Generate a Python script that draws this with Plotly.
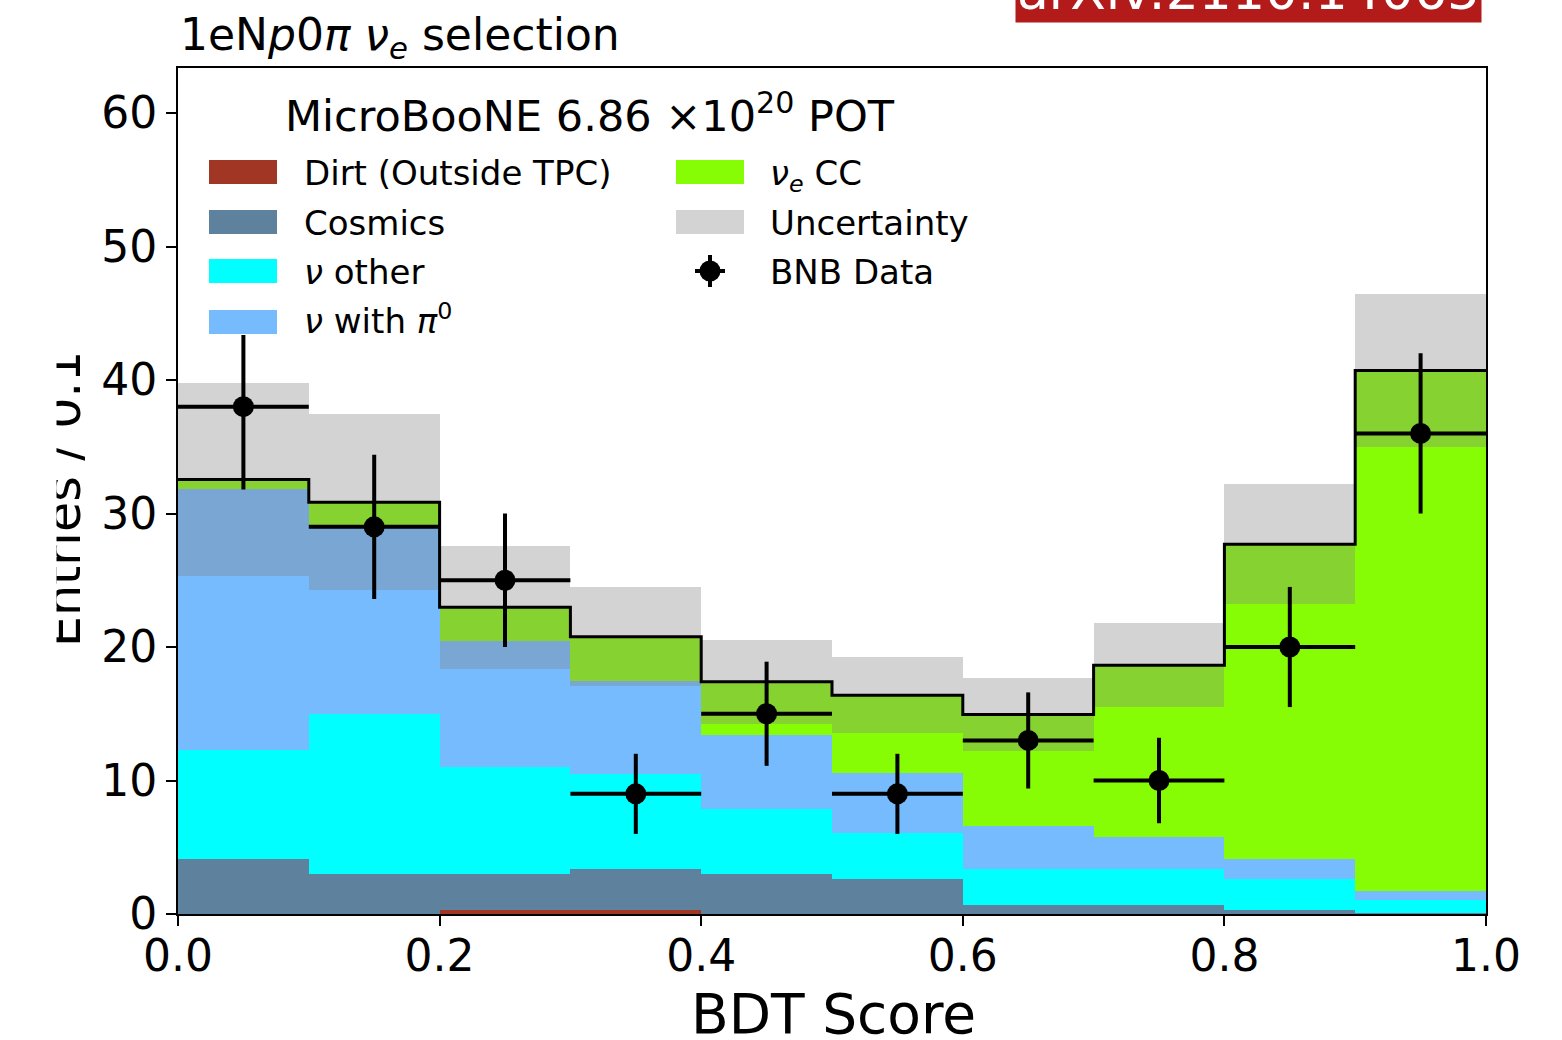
import numpy as np
import plotly.graph_objects as go

# ---------------- data ----------------
bin_edges = [0.0, 0.1, 0.2, 0.3, 0.4, 0.5, 0.6, 0.7, 0.8, 0.9, 1.0]
bin_centers = [0.05, 0.15, 0.25, 0.35, 0.45, 0.55, 0.65, 0.75, 0.85, 0.95]

dirt = [0.0, 0.0, 0.3, 0.3, 0.0, 0.0, 0.0, 0.0, 0.0, 0.0]
cosmics = [4.13, 2.97, 2.7, 3.07, 3.0, 2.65, 0.65, 0.65, 0.3, 0.1]
nu_other = [8.15, 11.99, 8.01, 7.12, 4.87, 3.39, 2.7, 2.7, 2.3, 0.98]
nu_pi0 = [19.53, 13.96, 9.47, 6.96, 5.54, 4.5, 3.27, 2.42, 1.53, 0.61]
nue_cc = [0.73, 1.93, 2.49, 3.32, 3.99, 5.84, 8.33, 12.86, 23.57, 39.02]
mc_unc = [7.2, 6.6, 4.6, 3.7, 3.15, 2.85, 2.75, 3.15, 4.5, 5.75]

bnb_data = [38, 29, 25, 9, 15, 9, 13, 10, 20, 36]
bnb_err = [6.2, 5.4, 5.0, 3.0, 3.9, 3.0, 3.6, 3.2, 4.5, 6.0]

x_ticks = [0.0, 0.2, 0.4, 0.6, 0.8, 1.0]
y_ticks = [0, 10, 20, 30, 40, 50, 60]

# ---------------- styling ----------------
FONT = "DejaVu Sans"
W, H = 1562, 1040
L, R, T, B = 178, 76, 68, 126
PW, PH = W - L - R, H - T - B
Y_MAX = PH / 13.35

c_dirt = "#a13624"
c_cos = "#5e819d"
c_oth = "#00ffff"
c_pi0 = "#75bbfd"
c_nue = "#87fd05"
c_unc = "rgba(128,128,128,0.35)"


def xp(px):
    return (px - L) / PW


def yp(py):
    return (H - B - py) / PH


components = [
    ("Dirt (Outside TPC)", dirt, c_dirt),
    ("Cosmics", cosmics, c_cos),
    ("ν other", nu_other, c_oth),
    ("ν with π0", nu_pi0, c_pi0),
    ("νe CC", nue_cc, c_nue),
]

fig = go.Figure()
base = np.zeros(len(bin_centers))
for name, vals, col in components:
    vals = np.array(vals, dtype=float)
    fig.add_trace(go.Bar(
        x=bin_centers, y=vals, base=base.copy(), width=0.1, name=name,
        marker=dict(color=col, line=dict(width=0)), showlegend=False,
    ))
    base = base + vals

total = base
unc = np.array(mc_unc)
fig.add_trace(go.Bar(
    x=bin_centers, y=2 * unc, base=total - unc, width=0.1, name="Uncertainty",
    marker=dict(color=c_unc, line=dict(width=0)), showlegend=False,
))

fig.add_trace(go.Scatter(
    x=bin_edges, y=list(total) + [total[-1]], mode="lines",
    line=dict(color="black", width=3, shape="hv"), showlegend=False,
))

fig.add_trace(go.Scatter(
    x=bin_centers, y=bnb_data, mode="markers", name="BNB Data",
    marker=dict(color="black", size=21),
    error_y=dict(type="data", array=bnb_err, color="black", thickness=4, width=0),
    error_x=dict(type="data", array=[0.05] * len(bin_centers), color="black", thickness=4, width=0),
    showlegend=False,
))

# ---------------- custom legend ----------------
shapes = []
annotations = []

shapes.append(dict(type="rect", xref="paper", yref="paper", x0=xp(198), x1=xp(985),
                   y0=yp(335), y1=yp(82), fillcolor="white", line=dict(width=0), layer="above"))


def text_at(txt, x_px, baseline_px, size, anchor_mode="top", xanchor="left", color="black", **kw):
    if anchor_mode == "bottom":
        y_px = baseline_px + 0.236 * size + 1
    else:
        y_px = baseline_px - 0.928 * size - 1
    annotations.append(dict(text=txt, x=xp(x_px), y=yp(y_px), xref="paper", yref="paper",
                            xanchor=xanchor, yanchor=anchor_mode, showarrow=False,
                            font=dict(family=FONT, size=size, color=color), **kw))


leg_fs = 34
col1_rows = [172, 222, 271, 322]
col2_rows = [172, 222, 271]
col1 = [("Dirt (Outside TPC)", c_dirt, "top"), ("Cosmics", c_cos, "top"),
        ("<i>ν</i> other", c_oth, "top"), ("<i>ν</i> with <i>π</i><sup>0</sup>", c_pi0, "bottom")]
for (txt, col, am), yc in zip(col1, col1_rows):
    shapes.append(dict(type="rect", xref="paper", yref="paper", x0=xp(209), x1=xp(277),
                       y0=yp(yc + 12), y1=yp(yc - 12), fillcolor=col, line=dict(width=0), layer="above"))
    text_at(txt, 302, yc + 12, leg_fs, am)

col2 = [("<i>ν<sub>e</sub></i> CC", c_nue, "top"), ("Uncertainty", c_unc, "top")]
for (txt, col, am), yc in zip(col2, col2_rows[:2]):
    shapes.append(dict(type="rect", xref="paper", yref="paper", x0=xp(676), x1=xp(744),
                       y0=yp(yc + 12), y1=yp(yc - 12), fillcolor=col, line=dict(width=0), layer="above"))
    text_at(txt, 768, yc + 12, leg_fs, am)

# BNB data handle
yc = col2_rows[2]
shapes.append(dict(type="line", xref="paper", yref="paper", x0=xp(710), x1=xp(710),
                   y0=yp(yc + 16), y1=yp(yc - 16), line=dict(color="black", width=4), layer="above"))
shapes.append(dict(type="line", xref="paper", yref="paper", x0=xp(695), x1=xp(725),
                   y0=yp(yc), y1=yp(yc), line=dict(color="black", width=4), layer="above"))
shapes.append(dict(type="circle", xref="paper", yref="paper", x0=xp(699.5), x1=xp(720.5),
                   y0=yp(yc + 10.5), y1=yp(yc - 10.5), fillcolor="black", line=dict(width=0), layer="above"))
text_at("BNB Data", 768, yc + 12, leg_fs, "top")

# legend title
text_at("MicroBooNE 6.86 ×10<sup>20</sup> POT", 283, 132, 43, "bottom")

# plot title
text_at("1eN<i>p</i>0<i>π</i> <i>ν<sub>e</sub></i> selection", 178, 49, 44, "top")

# x axis label
text_at("BDT Score", 834, 1032, 55, "top", xanchor="center")

# y axis label (rotated)
annotations.append(dict(text="Entries / 0.1", x=xp(63), y=yp(499), xref="paper", yref="paper",
                        xanchor="center", yanchor="middle", textangle=-90, showarrow=False,
                        font=dict(family=FONT, size=49, color="black")))
# white mask (the reference crops the left of the y label)
annotations.append(dict(text=" ", x=xp(28), y=yp(499), xref="paper", yref="paper",
                        xanchor="center", yanchor="middle", showarrow=False,
                        width=56, height=360, bgcolor="white", borderpad=0,
                        font=dict(family=FONT, size=10, color="white")))

# arXiv tag
annotations.append(dict(text="arXiv:2110.14065", x=xp(1248), y=yp(23), xref="paper", yref="paper",
                        xanchor="center", yanchor="bottom", showarrow=False,
                        bgcolor="#b31b1b", borderpad=1,
                        font=dict(family=FONT, size=52, color="white")))

axis_common = dict(showline=True, linecolor="black", linewidth=2, mirror=True,
                   ticks="outside", ticklen=10, tickwidth=2, tickcolor="black",
                   showgrid=False, zeroline=False,
                   tickfont=dict(family=FONT, size=44, color="black"))

fig.update_layout(
    width=W, height=H,
    margin=dict(l=L, r=R, t=T, b=B, autoexpand=False),
    paper_bgcolor="white", plot_bgcolor="white",
    barmode="overlay", bargap=0,
    showlegend=False,
    font=dict(family=FONT),
    xaxis=dict(range=[0, 1], tickvals=x_ticks, ticktext=[f"{v:.1f}" for v in x_ticks],
               ticklabelstandoff=-8, **axis_common),
    yaxis=dict(range=[0, Y_MAX], tickvals=y_ticks,
               ticklabelstandoff=0, **axis_common),
    shapes=shapes,
    annotations=annotations,
)

fig.write_html("out.html")
